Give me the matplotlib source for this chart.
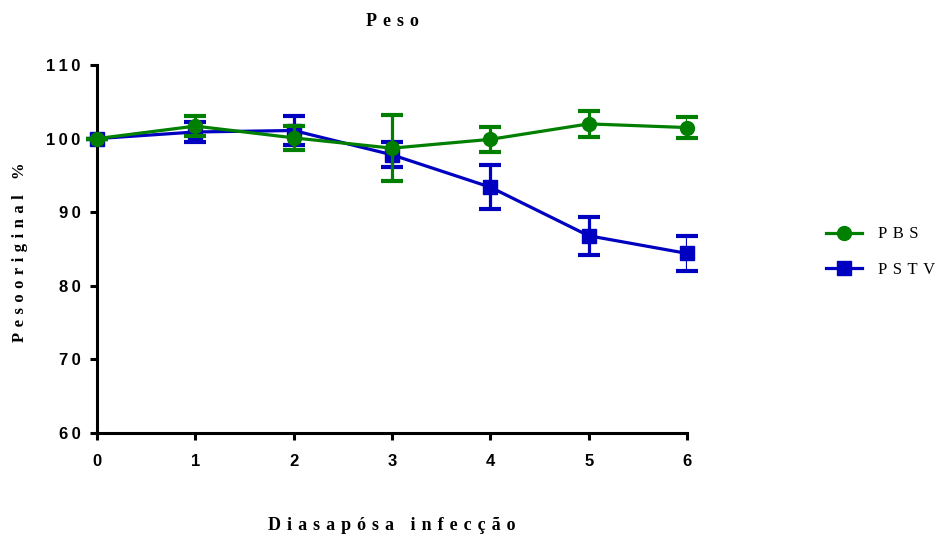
import numpy as np
import matplotlib
matplotlib.use("Agg")
import matplotlib.pyplot as plt
from matplotlib.lines import Line2D

days = [0, 1, 2, 3, 4, 5, 6]
pbs_mean = [100.0, 101.7, 100.1, 98.7, 99.9, 102.0, 101.5]
pbs_err = [0.0, 1.4, 1.6, 4.5, 1.7, 1.8, 1.4]
pstv_mean = [100.0, 100.9, 101.1, 97.8, 93.4, 86.8, 84.4]
pstv_err = [0.0, 1.4, 2.0, 1.7, 3.0, 2.6, 2.4]
y_ticks = [60, 70, 80, 90, 100, 110]

green = "#007f00"
blue = "#0000c0"


def spaced(s, sep="\u2004"):
    # letter spaced text, like the original export
    return sep.join(s)


fig = plt.figure(figsize=(9.42, 5.37), dpi=100)
ax = fig.add_axes([97 / 942, 1 - 433 / 537, 590 / 942, 368 / 537])

ax.errorbar(days, pstv_mean, yerr=pstv_err, color=blue, marker="s", markersize=10,
            lw=2.3, elinewidth=2.3, capsize=8, capthick=3, zorder=3)
ax.errorbar(days, pbs_mean, yerr=pbs_err, color=green, marker="o", markersize=10,
            lw=2.3, elinewidth=2.3, capsize=8, capthick=3, zorder=4)

ax.set_xlim(0, 6)
ax.set_ylim(60, 110)
ax.set_xticks(days)
ax.set_yticks(y_ticks)
sans = ["Liberation Sans", "DejaVu Sans"]
ax.set_xticklabels([str(d) for d in days], fontsize=12, fontweight="bold", family=sans)
ax.set_yticklabels(["\u2009".join(str(t)) for t in y_ticks], fontsize=12, fontweight="bold",
                   family=sans)
for side in ["top", "right"]:
    ax.spines[side].set_visible(False)
for side in ["left", "bottom"]:
    ax.spines[side].set_linewidth(2.2)
ax.tick_params(axis="both", length=5, width=2.2, direction="out")
ax.tick_params(axis="x", pad=10)
ax.tick_params(axis="y", pad=7)
for ln in ax.lines:
    ln.set_clip_on(False)

serif = ["Liberation Serif", "DejaVu Serif"]
fig.text(392 / 942, 1 - 21 / 537, spaced("Peso"), ha="center", va="center",
         fontsize=13, fontweight="bold", family=serif)
fig.text(392 / 942, 1 - 525 / 537, spaced("Diasapósa infecção"), ha="center", va="center",
         fontsize=13, fontweight="bold", family=serif)
fig.text(20 / 942, 1 - 252 / 537, spaced("Pesooriginal %"), ha="center", va="center",
         rotation=90, fontsize=12, fontweight="bold", family=serif)

h_pbs = Line2D([], [], color=green, marker="o", markersize=10, lw=2.3)
h_pstv = Line2D([], [], color=blue, marker="s", markersize=10, lw=2.3)
fig.legend([h_pbs, h_pstv], [spaced("PBS"), spaced("PSTV")],
           loc="center left", bbox_to_anchor=(826 / 942, 1 - 252 / 537),
           frameon=False, prop={"family": serif, "size": 12},
           handlelength=2.15, handletextpad=1.0, labelspacing=1.15,
           borderpad=0, borderaxespad=0)

fig.savefig("out.png", dpi=100)
